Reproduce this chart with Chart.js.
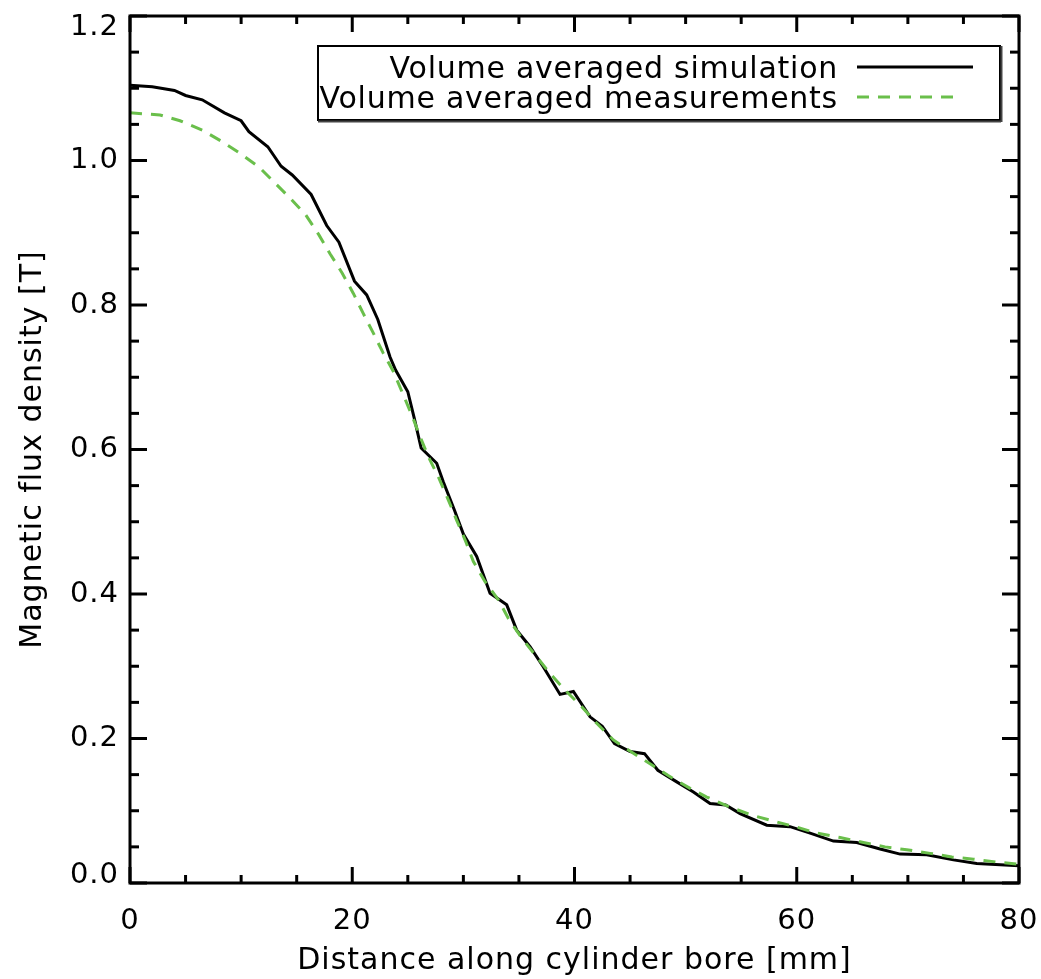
<!DOCTYPE html>
<html>
<head>
<meta charset="utf-8">
<script src="https://cdn.jsdelivr.net/npm/chart.js@4/dist/chart.umd.min.js"></script>
<style>
  html, body { margin: 0; padding: 0; background: #fff; }
  canvas { display: block; }
</style>
</head>
<body>
<canvas id="c" width="1041" height="979"></canvas>
<script>
// ---- Data ----
const simX = [0, 2, 4, 5, 6.5, 8.5, 10, 10.7, 12.4, 13.6, 14.6, 16.3, 17.7, 18.8, 20.2, 21.3, 22.3, 23.4, 23.9,
  25.0, 25.6, 26.2, 27.6, 28.2, 29.2, 30.0, 31.2, 32.4, 33.9, 34.8, 36.0, 37.2, 38.7, 39.9, 41.4, 42.5, 43.6,
  45.0, 46.3, 47.5, 49.2, 50.7, 52.2, 53.6, 54.9, 57.3, 59.4, 61.2, 63.3, 65.4, 67.5, 69.3, 71.7, 74.1, 76.2, 80.0];
const simB = [1.104, 1.102, 1.097, 1.090, 1.084, 1.066, 1.055, 1.040, 1.019, 0.992, 0.980, 0.953, 0.910, 0.887, 0.833, 0.814, 0.780, 0.728, 0.710,
  0.680, 0.642, 0.602, 0.581, 0.555, 0.516, 0.483, 0.452, 0.401, 0.385, 0.350, 0.327, 0.299, 0.261, 0.265, 0.230, 0.217, 0.193,
  0.182, 0.179, 0.156, 0.140, 0.126, 0.110, 0.108, 0.096, 0.080, 0.078, 0.069, 0.058, 0.056, 0.047, 0.040, 0.039, 0.032, 0.027, 0.024];

const measX = [0, 2.7, 4.5, 6.5, 8.3, 9.9, 11.6, 13.1, 14.4, 15.8, 17.0, 18.0, 19.1, 20.1, 21.0, 21.9, 22.8, 23.7,
  25.35, 26.1, 26.85, 27.75, 28.65, 29.4, 30.15, 30.9, 31.95, 33.15, 34.05, 35.25, 36.6, 37.8, 39.15, 40.65, 42.0,
  43.5, 44.85, 46.8, 48.4, 50.4, 51.9, 54.0, 55.95, 58.05, 59.85, 61.8, 63.9, 66.0, 67.95, 69.9, 72.0, 73.95, 75.9, 78.0, 80.0];
const measB = [1.066, 1.063, 1.055, 1.042, 1.026, 1.010, 0.991, 0.968, 0.948, 0.925, 0.897, 0.871, 0.844, 0.816, 0.788, 0.761, 0.733, 0.708,
  0.648, 0.618, 0.590, 0.562, 0.530, 0.502, 0.475, 0.445, 0.417, 0.392, 0.366, 0.339, 0.313, 0.290, 0.267, 0.244, 0.221,
  0.198, 0.184, 0.165, 0.149, 0.131, 0.119, 0.105, 0.094, 0.085, 0.078, 0.069, 0.063, 0.056, 0.050, 0.046, 0.041, 0.036, 0.033, 0.029, 0.026];

const seriesLabels = ['Volume averaged simulation', 'Volume averaged measurements'];
const xTickLabels = ['0', '20', '40', '60', '80'];
const yTickLabels = ['0.0', '0.2', '0.4', '0.6', '0.8', '1.0', '1.2'];
const xTitle = 'Distance along cylinder bore [mm]';
const yTitle = 'Magnetic flux density [T]';

const FONT = '"DejaVu Sans", sans-serif';
const GREEN = '#6abf4b';

const spacingPlugin = {
  id: 'spacing',
  beforeDraw(chart) { try { chart.ctx.letterSpacing = '1px'; } catch (e) {} }
};

const framePlugin = {
  id: 'idlFrame',
  afterDraw(chart) {
    const ctx = chart.ctx;
    const { left, right, top, bottom } = chart.chartArea;
    const xs = chart.scales.x, ys = chart.scales.y;
    ctx.save();
    ctx.strokeStyle = '#000';
    ctx.lineCap = 'butt';
    ctx.lineWidth = 3;
    const seg = (x1, y1, x2, y2) => { ctx.beginPath(); ctx.moveTo(x1, y1); ctx.lineTo(x2, y2); ctx.stroke(); };
    // x ticks (major from scale, 3 minors between)
    const xt = xs.ticks.map(t => t.value);
    for (let i = 0; i < xt.length; i++) {
      const px = xs.getPixelForValue(xt[i]);
      seg(px, bottom, px, bottom - 16); seg(px, top, px, top + 16);
      if (i < xt.length - 1) {
        const step = (xt[i + 1] - xt[i]) / 4;
        for (let k = 1; k < 4; k++) {
          const mp = xs.getPixelForValue(xt[i] + k * step);
          seg(mp, bottom, mp, bottom - 8); seg(mp, top, mp, top + 8);
        }
      }
    }
    const yt = ys.ticks.map(t => t.value);
    for (let i = 0; i < yt.length; i++) {
      const py = ys.getPixelForValue(yt[i]);
      seg(left, py, left + 17, py); seg(right, py, right - 17, py);
      if (i < yt.length - 1) {
        const step = (yt[i + 1] - yt[i]) / 4;
        for (let k = 1; k < 4; k++) {
          const mp = ys.getPixelForValue(yt[i] + k * step);
          seg(left, mp, left + 9, mp); seg(right, mp, right - 9, mp);
        }
      }
    }
    // frame
    ctx.strokeRect(left, top, right - left, bottom - top);

    // y tick labels (kept inside the frame height like the reference)
    ctx.fillStyle = '#000';
    ctx.font = '29px ' + FONT;
    ctx.textAlign = 'right';
    ctx.textBaseline = 'middle';
    ys.ticks.forEach(t => {
      let py = ys.getPixelForValue(t.value);
      py = Math.min(Math.max(py, top + 11), bottom - 8);
      ctx.fillText(t.label, left - 11, py);
    });

    // legend box
    const bx1 = 318, by1 = 46, bx2 = 1000, by2 = 120;
    ctx.lineWidth = 2;
    ctx.strokeRect(bx1, by1, bx2 - bx1, by2 - by1);
    ctx.strokeStyle = '#444';
    ctx.lineWidth = 2;
    seg(bx1, by2 + 1.5, bx2 + 1, by2 + 1.5);
    seg(bx2 + 1.5, by1, bx2 + 1.5, by2 + 2);
    try { ctx.letterSpacing = '0.75px'; } catch (e) {}
    ctx.font = '30px ' + FONT;
    ctx.textAlign = 'right';
    ctx.textBaseline = 'alphabetic';
    ctx.fillStyle = '#000';
    const ds = chart.data.datasets;
    const rowsY = [78, 108];
    const lineEnd = [973, 962];
    ds.forEach((d, i) => {
      ctx.fillText(d.label, 838, rowsY[i]);
      ctx.save();
      ctx.strokeStyle = d.borderColor;
      ctx.lineWidth = 3;
      ctx.setLineDash(d.borderDash || []);
      seg(857, rowsY[i] - 11, lineEnd[i], rowsY[i] - 11);
      ctx.restore();
    });
    ctx.restore();
  }
};

new Chart(document.getElementById('c'), {
  type: 'line',
  data: {
    datasets: [
      {
        label: seriesLabels[0],
        data: simX.map((x, i) => ({ x: x, y: simB[i] })),
        borderColor: '#000',
        borderWidth: 3,
        pointRadius: 0,
        tension: 0,
        order: 2
      },
      {
        label: seriesLabels[1],
        data: measX.map((x, i) => ({ x: x, y: measB[i] })),
        borderColor: GREEN,
        borderWidth: 3,
        borderDash: [12, 9],
        pointRadius: 0,
        tension: 0,
        order: 1
      }
    ]
  },
  options: {
    responsive: false,
    devicePixelRatio: 1,
    animation: false,
    events: [],
    layout: { padding: { left: 0, right: 22, top: 16, bottom: 0 } },
    plugins: { legend: { display: false }, tooltip: { enabled: false } },
    scales: {
      x: {
        type: 'linear',
        min: 0, max: 80,
        grid: { display: false, drawTicks: false },
        border: { display: false },
        ticks: {
          stepSize: 20,
          padding: 21,
          color: '#000',
          font: { family: FONT, size: 29 },
          maxRotation: 0,
          callback: (v, i) => xTickLabels[i]
        },
        title: {
          display: true,
          text: xTitle,
          color: '#000',
          font: { family: FONT, size: 30, lineHeight: 1 },
          padding: { top: 0, bottom: 3 }
        },
        afterFit: (s) => { s.height = 96; s.paddingLeft = 0; s.paddingRight = 0; }
      },
      y: {
        type: 'linear',
        min: 0, max: 1.2,
        grid: { display: false, drawTicks: false },
        border: { display: false },
        ticks: {
          stepSize: 0.2,
          display: false,
          callback: (v, i) => yTickLabels[i]
        },
        title: {
          display: true,
          text: yTitle,
          color: '#000',
          font: { family: FONT, size: 30, lineHeight: 1 },
          padding: { top: 18, bottom: 0 }
        },
        afterFit: (s) => { s.width = 130; s.paddingTop = 0; s.paddingBottom = 0; }
      }
    }
  },
  plugins: [spacingPlugin, framePlugin]
});
</script>
</body>
</html>
